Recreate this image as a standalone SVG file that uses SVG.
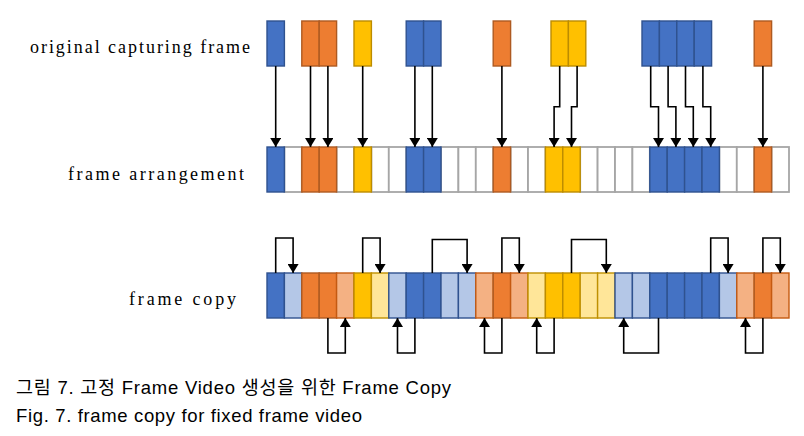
<svg xmlns="http://www.w3.org/2000/svg" width="804" height="436" viewBox="0 0 804 436">
<style>
rect{stroke-width:1.4}
.b{fill:#4472C4;stroke:#2F528F}
.o{fill:#ED7D31;stroke:#AE5A21}
.y{fill:#FFC000;stroke:#BC8C00}
.lb{fill:#B4C7E7;stroke:#2F528F}
.lo{fill:#F4B183;stroke:#C55A11}
.ly{fill:#FFE699;stroke:#BF9000}
.w{fill:#FFFFFF;stroke:#A6A6A6;stroke-width:1.8}
.c path{fill:none;stroke:#000;stroke-width:1.6;marker-end:url(#ah)}
.lbl{font-family:"Liberation Serif",serif;font-size:18px;fill:#000}
.cap{font-family:"Liberation Sans","Noto Sans CJK KR",sans-serif;font-size:18.5px;fill:#000}
</style>
<defs>
<marker id="ah" markerUnits="userSpaceOnUse" markerWidth="9" markerHeight="11" viewBox="0 0 9 11" refX="9" refY="5.5" orient="auto"><path d="M0,0 L9,5.5 L0,11 z" fill="#000"/></marker>
</defs>
<rect width="804" height="436" fill="#fff" stroke="none"/>

<g id="labels">
<text class="lbl" x="30" y="53" textLength="220" lengthAdjust="spacing">original capturing frame</text>
<text class="lbl" x="68" y="180" textLength="176" lengthAdjust="spacing">frame arrangement</text>
<text class="lbl" x="129" y="305" textLength="107" lengthAdjust="spacing">frame copy</text>
</g>

<g id="original">
<rect class="b" x="267" y="21" width="17.4" height="45"/>
<rect class="o" x="301.8" y="21" width="17.4" height="45"/>
<rect class="o" x="319.2" y="21" width="17.4" height="45"/>
<rect class="y" x="354" y="21" width="17.4" height="45"/>
<rect class="b" x="406.2" y="21" width="17.4" height="45"/>
<rect class="b" x="423.6" y="21" width="17.4" height="45"/>
<rect class="o" x="493.2" y="21" width="17.4" height="45"/>
<rect class="y" x="551" y="21" width="17.4" height="45"/>
<rect class="y" x="568.4" y="21" width="17.4" height="45"/>
<rect class="b" x="642" y="21" width="17.4" height="45"/>
<rect class="b" x="659.4" y="21" width="17.4" height="45"/>
<rect class="b" x="676.8" y="21" width="17.4" height="45"/>
<rect class="b" x="694.2" y="21" width="17.4" height="45"/>
<rect class="o" x="754.2" y="21" width="17.4" height="45"/>
</g>

<g id="arrangement">
<rect class="w" x="284.4" y="147" width="17.4" height="45"/>
<rect class="w" x="336.6" y="147" width="17.4" height="45"/>
<rect class="w" x="371.4" y="147" width="17.4" height="45"/>
<rect class="w" x="388.8" y="147" width="17.4" height="45"/>
<rect class="w" x="441" y="147" width="17.4" height="45"/>
<rect class="w" x="458.4" y="147" width="17.4" height="45"/>
<rect class="w" x="475.8" y="147" width="17.4" height="45"/>
<rect class="w" x="510.6" y="147" width="17.4" height="45"/>
<rect class="w" x="528" y="147" width="17.4" height="45"/>
<rect class="w" x="580.2" y="147" width="17.4" height="45"/>
<rect class="w" x="597.6" y="147" width="17.4" height="45"/>
<rect class="w" x="615" y="147" width="17.4" height="45"/>
<rect class="w" x="632.4" y="147" width="17.4" height="45"/>
<rect class="w" x="719.4" y="147" width="17.4" height="45"/>
<rect class="w" x="736.8" y="147" width="17.4" height="45"/>
<rect class="w" x="771.6" y="147" width="17.4" height="45"/>
<rect class="b" x="267" y="147" width="17.4" height="45"/>
<rect class="o" x="301.8" y="147" width="17.4" height="45"/>
<rect class="o" x="319.2" y="147" width="17.4" height="45"/>
<rect class="y" x="354" y="147" width="17.4" height="45"/>
<rect class="b" x="406.2" y="147" width="17.4" height="45"/>
<rect class="b" x="423.6" y="147" width="17.4" height="45"/>
<rect class="o" x="493.2" y="147" width="17.4" height="45"/>
<rect class="y" x="545.4" y="147" width="17.4" height="45"/>
<rect class="y" x="562.8" y="147" width="17.4" height="45"/>
<rect class="b" x="649.8" y="147" width="17.4" height="45"/>
<rect class="b" x="667.2" y="147" width="17.4" height="45"/>
<rect class="b" x="684.6" y="147" width="17.4" height="45"/>
<rect class="b" x="702" y="147" width="17.4" height="45"/>
<rect class="o" x="754.2" y="147" width="17.4" height="45"/>
</g>

<g id="copy">
<rect class="b" x="267" y="273" width="17.4" height="45"/>
<rect class="lb" x="284.4" y="273" width="17.4" height="45"/>
<rect class="o" x="301.8" y="273" width="17.4" height="45"/>
<rect class="o" x="319.2" y="273" width="17.4" height="45"/>
<rect class="lo" x="336.6" y="273" width="17.4" height="45"/>
<rect class="y" x="354" y="273" width="17.4" height="45"/>
<rect class="ly" x="371.4" y="273" width="17.4" height="45"/>
<rect class="lb" x="388.8" y="273" width="17.4" height="45"/>
<rect class="b" x="406.2" y="273" width="17.4" height="45"/>
<rect class="b" x="423.6" y="273" width="17.4" height="45"/>
<rect class="lb" x="441" y="273" width="17.4" height="45"/>
<rect class="lb" x="458.4" y="273" width="17.4" height="45"/>
<rect class="lo" x="475.8" y="273" width="17.4" height="45"/>
<rect class="o" x="493.2" y="273" width="17.4" height="45"/>
<rect class="lo" x="510.6" y="273" width="17.4" height="45"/>
<rect class="ly" x="528" y="273" width="17.4" height="45"/>
<rect class="y" x="545.4" y="273" width="17.4" height="45"/>
<rect class="y" x="562.8" y="273" width="17.4" height="45"/>
<rect class="ly" x="580.2" y="273" width="17.4" height="45"/>
<rect class="ly" x="597.6" y="273" width="17.4" height="45"/>
<rect class="lb" x="615" y="273" width="17.4" height="45"/>
<rect class="lb" x="632.4" y="273" width="17.4" height="45"/>
<rect class="b" x="649.8" y="273" width="17.4" height="45"/>
<rect class="b" x="667.2" y="273" width="17.4" height="45"/>
<rect class="b" x="684.6" y="273" width="17.4" height="45"/>
<rect class="b" x="702" y="273" width="17.4" height="45"/>
<rect class="lb" x="719.4" y="273" width="17.4" height="45"/>
<rect class="lo" x="736.8" y="273" width="17.4" height="45"/>
<rect class="o" x="754.2" y="273" width="17.4" height="45"/>
<rect class="lo" x="771.6" y="273" width="17.4" height="45"/>
</g>

<g id="connectors" class="c">
<path d="M275.7,66 V147"/>
<path d="M310.5,66 V147"/>
<path d="M327.9,66 V147"/>
<path d="M362.7,66 V147"/>
<path d="M414.9,66 V147"/>
<path d="M432.3,66 V147"/>
<path d="M501.9,66 V147"/>
<path d="M559.7,66 V106.7 H554.1 V147"/>
<path d="M577.1,66 V106.7 H571.5 V147"/>
<path d="M650.7,66 V106.7 H658.5 V147"/>
<path d="M668.1,66 V106.7 H675.9 V147"/>
<path d="M685.5,66 V106.7 H693.3 V147"/>
<path d="M702.9,66 V106.7 H710.7 V147"/>
<path d="M762.9,66 V147"/>

<path d="M275.7,273 V238 H293.1 V273"/>
<path d="M362.7,273 V238 H380.1 V273"/>
<path d="M432.3,273 V239.5 H467.1 V273"/>
<path d="M501.9,273 V238 H519.3 V273"/>
<path d="M571.5,273 V239.5 H606.3 V273"/>
<path d="M710.7,273 V238 H728.1 V273"/>
<path d="M762.9,273 V238 H780.3 V273"/>

<path d="M327.9,318 V353 H345.3 V318"/>
<path d="M414.9,318 V353 H397.5 V318"/>
<path d="M501.9,318 V353 H484.5 V318"/>
<path d="M554.1,318 V353 H536.7 V318"/>
<path d="M658.5,318 V353 H623.7 V318"/>
<path d="M762.9,318 V353 H745.5 V318"/>
</g>

<g id="caption">
<text class="cap" x="16" y="394" textLength="435" lengthAdjust="spacing">그림 7. 고정 Frame Video 생성을 위한 Frame Copy</text>
<text class="cap" x="16" y="422" textLength="346" lengthAdjust="spacing">Fig. 7. frame copy for fixed frame video</text>
</g>
</svg>
